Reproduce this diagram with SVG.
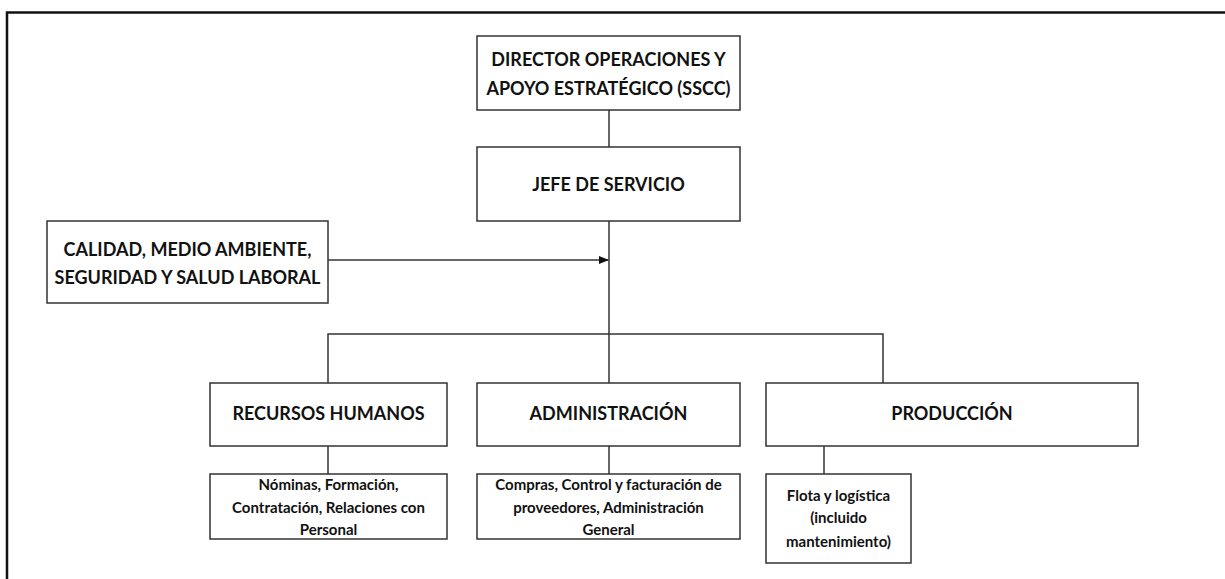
<svg xmlns="http://www.w3.org/2000/svg" width="1225" height="579" viewBox="0 0 1225 579">
<style>
.box{fill:#fff;stroke:#333;stroke-width:1.5}
.ln{fill:none;stroke:#333;stroke-width:1.5}
.t{font-family:Lato,"Open Sans","Liberation Sans",sans-serif;font-weight:bold;fill:#111;text-anchor:middle}
.h{font-size:18px}
.s{font-size:15px}
</style>
<defs>
<marker id="arr" markerWidth="10" markerHeight="8" refX="9" refY="4" orient="auto" markerUnits="userSpaceOnUse">
<path d="M0,0 L10,4 L0,8 Z" fill="#111"/>
</marker>
</defs>
<rect width="1225" height="579" fill="#fff"/>
<path d="M7,579 V12.5 H1225" fill="none" stroke="#111" stroke-width="2.5"/>
<g id="connectors">
<line class="ln" x1="609" y1="110" x2="609" y2="147"/>
<line class="ln" x1="609" y1="221" x2="609" y2="383"/>
<line class="ln" x1="328" y1="260" x2="608" y2="260" marker-end="url(#arr)"/>
<polyline class="ln" points="328,383 328,334 883,334 883,383"/>
<line class="ln" x1="328" y1="446" x2="328" y2="474"/>
<line class="ln" x1="609" y1="446" x2="609" y2="474"/>
<line class="ln" x1="824" y1="446" x2="824" y2="474"/>
</g>
<g id="director">
<rect class="box" x="477" y="36" width="263" height="74"/>
<text class="t h" x="608.5" y="66">DIRECTOR OPERACIONES Y</text>
<text class="t h" x="608.5" y="95">APOYO ESTRATÉGICO (SSCC)</text>
</g>
<g id="jefe">
<rect class="box" x="477" y="147" width="263" height="74"/>
<text class="t h" x="608.5" y="191">JEFE DE SERVICIO</text>
</g>
<g id="calidad">
<rect class="box" x="47" y="221" width="281" height="82"/>
<text class="t h" x="187.5" y="256">CALIDAD, MEDIO AMBIENTE,</text>
<text class="t h" x="187.5" y="284">SEGURIDAD Y SALUD LABORAL</text>
</g>
<g id="rrhh">
<rect class="box" x="210" y="383" width="237" height="63"/>
<text class="t h" x="328.5" y="420">RECURSOS HUMANOS</text>
</g>
<g id="admin">
<rect class="box" x="477" y="383" width="263" height="63"/>
<text class="t h" x="608.5" y="420">ADMINISTRACIÓN</text>
</g>
<g id="produccion">
<rect class="box" x="766" y="383" width="372" height="63"/>
<text class="t h" x="952" y="420">PRODUCCIÓN</text>
</g>
<g id="rrhh-sub">
<rect class="box" x="210" y="474" width="237" height="65"/>
<text class="t s" x="328.5" y="490">Nóminas, Formación,</text>
<text class="t s" x="328.5" y="513">Contratación, Relaciones con</text>
<text class="t s" x="328.5" y="535">Personal</text>
</g>
<g id="admin-sub">
<rect class="box" x="477" y="474" width="263" height="65"/>
<text class="t s" x="608.5" y="490">Compras, Control y facturación de</text>
<text class="t s" x="608.5" y="513">proveedores, Administración</text>
<text class="t s" x="608.5" y="535">General</text>
</g>
<g id="prod-sub">
<rect class="box" x="766" y="474" width="145" height="89"/>
<text class="t s" x="838.5" y="501">Flota y logística</text>
<text class="t s" x="838.5" y="523">(incluido</text>
<text class="t s" x="838.5" y="547">mantenimiento)</text>
</g>
</svg>
